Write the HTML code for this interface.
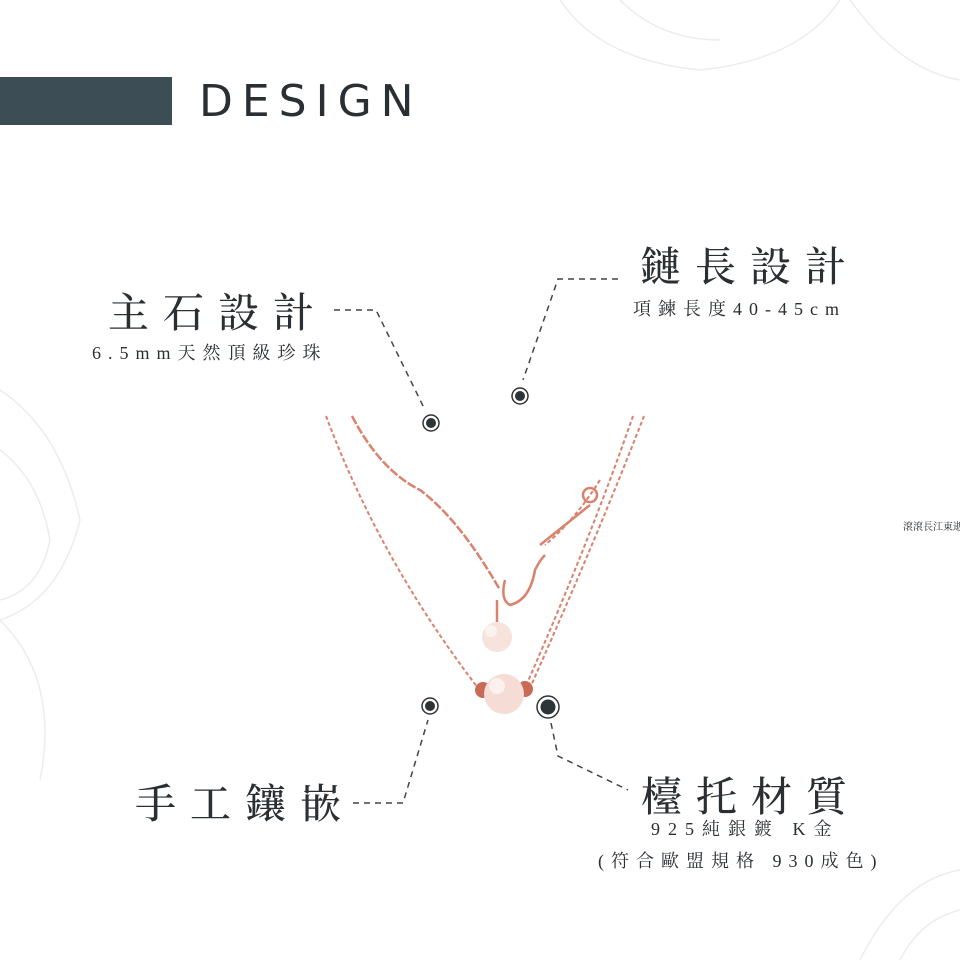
<!DOCTYPE html>
<html><head><meta charset="utf-8"><style>
body{margin:0;width:960px;height:960px;background:#fff;position:relative;overflow:hidden;font-family:"Liberation Serif","Noto Serif CJK SC",serif;color:#2a2f33}
.t{position:absolute;white-space:nowrap}
.h{font-size:41px;letter-spacing:14px;font-weight:500}
.s{font-size:18px;letter-spacing:6px}
</style></head><body>
<svg width="960" height="960" style="position:absolute;left:0;top:0">
<g fill="none" stroke="#ececec" stroke-width="1.5">
<path d="M560 0 Q600 60 700 70 Q800 60 840 0"/><path d="M620 0 Q660 40 720 40"/>
<path d="M850 0 Q900 70 960 80"/><path d="M0 390 Q60 430 80 520 Q60 600 0 620"/>
<path d="M0 450 Q40 480 50 540 Q40 590 0 600"/><path d="M0 620 Q60 680 40 780"/>
<path d="M860 960 Q900 880 960 870"/><path d="M900 960 Q920 920 960 910"/>
</g>
<rect x="0" y="77" width="172" height="48" fill="#3d4d55"/>
<g fill="none" stroke="#444" stroke-width="1.5" stroke-dasharray="6,5">
<path d="M334 310 H376 L425 410"/>
<path d="M618 279 H558 L523 380"/>
<path d="M353 803 H403 L428 720"/>
<path d="M551 723 L558 756 L628 790"/>
</g>
<g fill="none" stroke="#d9826d" stroke-width="2" stroke-dasharray="4,2.5">
<path d="M326 416 Q380 560 478 688"/>
<path d="M633 416 Q590 540 525 688"/>
<path d="M644 416 Q600 530 530 688"/>
<path d="M600 480 Q575 520 545 545"/>
</g>
<g fill="none" stroke="#d9826d" stroke-width="2.5" stroke-dasharray="9,2">
<path d="M352 416 Q380 470 420 490 Q460 520 500 590"/>
</g>
<g fill="none" stroke="#d9826d" stroke-width="2.5">
<path d="M540 545 L590 505"/>
<path d="M505 580 Q500 600 510 605 Q530 600 535 570 Q540 560 545 555"/>
<path d="M497 600 L497 622"/>
</g>
<circle cx="590" cy="495" r="7" fill="none" stroke="#d9826d" stroke-width="2.5"/>
<circle cx="497" cy="637" r="15" fill="#f7e2dc"/>
<circle cx="491" cy="631" r="6" fill="#fff" opacity=".6"/>
<circle cx="483" cy="690" r="8" fill="#c86a55"/>
<circle cx="525" cy="689" r="8" fill="#c86a55"/>
<circle cx="504" cy="694" r="20" fill="#f5ddd6"/>
<circle cx="497" cy="686" r="8" fill="#fff" opacity=".6"/>
<g fill="#2e3538">
<circle cx="431" cy="423" r="8" fill="#fff" stroke="#333" stroke-width="1.5"/><circle cx="431" cy="423" r="5"/>
<circle cx="520" cy="396" r="8" fill="#fff" stroke="#333" stroke-width="1.5"/><circle cx="520" cy="396" r="5"/>
<circle cx="430" cy="706" r="8" fill="#fff" stroke="#333" stroke-width="1.5"/><circle cx="430" cy="706" r="5"/>
<circle cx="548" cy="707" r="11" fill="#fff" stroke="#333" stroke-width="1.5"/><circle cx="548" cy="707" r="7.5"/>
</g>
</svg>
<div class="t" style="left:199px;top:76px;font-family:'DejaVu Sans',sans-serif;font-size:44px;letter-spacing:9px;color:#2a2f33">DESIGN</div>
<div class="t h" style="left:108px;top:280px">主石設計</div>
<div class="t s" style="left:92px;top:339px;letter-spacing:7px">6.5mm天然頂級珍珠</div>
<div class="t h" style="left:640px;top:234px">鏈長設計</div>
<div class="t s" style="left:633px;top:295px;letter-spacing:7px">項鍊長度40-45cm</div>
<div class="t h" style="left:135px;top:771px">手工鑲嵌</div>
<div class="t h" style="left:641px;top:764px">檯托材質</div>
<div class="t s" style="left:651px;top:815px;letter-spacing:8px">925純銀鍍 K金</div>
<div class="t s" style="left:598px;top:847px;letter-spacing:7px">(符合歐盟規格 930成色)</div>
<div class="t" style="left:903px;top:518px;font-size:10px">滾滾長江東逝</div>
</body></html>
